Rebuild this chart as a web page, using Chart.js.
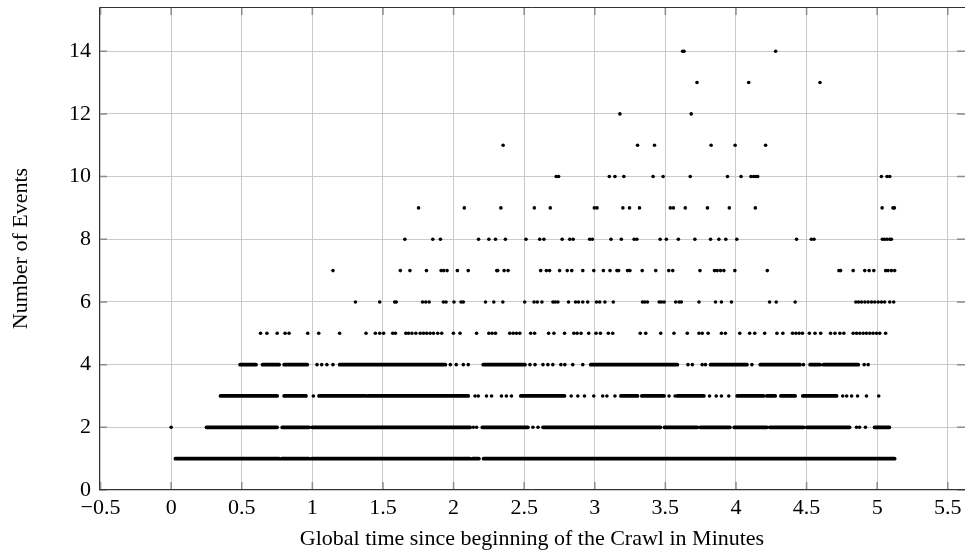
<!DOCTYPE html>
<html>
<head>
<meta charset="utf-8">
<script src="https://cdn.jsdelivr.net/npm/chart.js@4"></script>
<style>
  html, body { margin: 0; padding: 0; background: #fff; overflow: hidden; }
  #grafico { display: block; }
</style>
</head>
<body>
<canvas id="grafico" width="969" height="552"></canvas>
<script>
// Datos: minutos donde aparece cada numero de eventos
// Filas densas como tramos [desde, hasta], filas dispersas como puntos sueltos
const tramos1 = [[0.030, 0.765], [0.784, 0.976], [0.995, 2.116], [2.135, 2.180], [2.212, 5.124]]
const tramos2 = [[0.250, 0.751], [0.786, 0.976], [0.998, 2.118], [2.203, 2.527], [2.633, 3.465], [3.493, 3.726],
                 [3.747, 3.958], [3.987, 4.219], [4.240, 4.480], [4.501, 4.805], [4.981, 5.087]]
const tramos3 = [[0.349, 0.751], [0.800, 0.955], [1.047, 1.378], [1.392, 2.104], [2.476, 2.786], [3.185, 3.303],
                 [3.333, 3.491], [3.585, 3.773], [4.008, 4.196], [4.219, 4.278], [4.318, 4.419], [4.473, 4.713]]
const tramos4 = [[0.488, 0.601], [0.647, 0.765], [0.800, 0.964], [1.193, 1.942], [2.210, 2.506], [2.971, 3.585],
                 [3.820, 4.078], [4.172, 4.454], [4.525, 4.595], [4.619, 4.866]]

const puntos2 = [0.0, 2.140, 2.163, 2.562, 2.598, 4.854, 4.875, 4.917]
const puntos3 = [1.007, 2.152, 2.175, 2.233, 2.269, 2.339, 2.374, 2.410, 2.833, 2.880, 2.927, 2.993, 3.056, 3.086,
                 3.143, 3.526, 3.569, 3.813, 3.860, 3.897, 3.949, 4.756, 4.784, 4.819, 4.861, 4.924, 5.011]
const puntos4 = [1.033, 1.066, 1.103, 1.146, 1.977, 2.019, 2.069, 2.104, 2.541, 2.577, 2.633, 2.668, 2.703, 2.760,
                 2.788, 2.844, 2.915, 3.660, 3.691, 3.761, 3.784, 4.113, 4.478, 4.908, 4.936]
const puntos5 = [0.633, 0.678, 0.751, 0.807, 0.835, 0.967, 1.045, 1.193, 1.380, 1.446, 1.477, 1.505, 1.569, 1.588,
                 1.662, 1.681, 1.705, 1.733, 1.764, 1.787, 1.810, 1.834, 1.858, 1.888, 1.916, 1.999, 2.046, 2.163,
                 2.250, 2.273, 2.297, 2.398, 2.422, 2.445, 2.469, 2.546, 2.574, 2.673, 2.711, 2.786, 2.852, 2.875,
                 2.903, 2.957, 3.009, 3.040, 3.096, 3.127, 3.322, 3.361, 3.467, 3.561, 3.655, 3.738, 3.761, 3.803,
                 3.897, 3.925, 4.027, 4.097, 4.133, 4.203, 4.290, 4.332, 4.400, 4.424, 4.447, 4.471, 4.520, 4.560,
                 4.600, 4.670, 4.701, 4.736, 4.764, 4.830, 4.854, 4.877, 4.901, 4.924, 4.948, 4.971, 4.995, 5.018, 5.060]
const puntos6 = [1.305, 1.477, 1.583, 1.594, 1.780, 1.803, 1.827, 1.928, 1.947, 2.003, 2.053, 2.069, 2.226, 2.285,
                 2.349, 2.504, 2.570, 2.593, 2.626, 2.704, 2.720, 2.739, 2.814, 2.864, 2.885, 2.915, 2.950, 3.012,
                 3.035, 3.072, 3.131, 3.338, 3.354, 3.373, 3.456, 3.472, 3.491, 3.573, 3.597, 3.613, 3.738, 3.855,
                 3.897, 3.968, 4.238, 4.285, 4.419, 4.849, 4.868, 4.889, 4.913, 4.936, 4.960, 4.983, 5.007, 5.030,
                 5.053, 5.089, 5.117]
const puntos7 = [1.146, 1.623, 1.691, 1.808, 1.912, 1.930, 1.954, 2.027, 2.104, 2.306, 2.313, 2.358, 2.386, 2.617,
                 2.657, 2.680, 2.751, 2.805, 2.837, 2.915, 2.993, 3.061, 3.108, 3.157, 3.169, 3.232, 3.249, 3.336,
                 3.432, 3.524, 3.552, 3.745, 3.848, 3.867, 3.890, 3.914, 3.992, 4.222, 4.729, 4.741, 4.830, 4.912,
                 4.943, 4.976, 5.060, 5.077, 5.101, 5.124]
const puntos8 = [1.655, 1.853, 1.907, 2.177, 2.250, 2.297, 2.367, 2.513, 2.610, 2.640, 2.769, 2.823, 2.847, 2.964,
                 2.983, 3.115, 3.188, 3.279, 3.298, 3.463, 3.507, 3.592, 3.709, 3.820, 3.879, 3.928, 4.006, 4.429,
                 4.534, 4.553, 5.037, 5.053, 5.070, 5.089, 5.101]
const puntos9 = [1.752, 2.076, 2.335, 2.572, 2.685, 2.997, 3.016, 3.199, 3.246, 3.317, 3.535, 3.557, 3.641, 3.798,
                 3.953, 4.137, 5.035, 5.112, 5.122]
const puntos10 = [2.727, 2.744, 3.103, 3.143, 3.206, 3.413, 3.484, 3.676, 3.940, 4.036, 4.106, 4.125, 4.140, 4.154,
                  5.030, 5.070, 5.089]
const puntos11 = [2.351, 3.303, 3.423, 3.824, 3.994, 4.210]
const puntos12 = [3.178, 3.683]
const puntos13 = [3.724, 4.090, 4.595]
const puntos14 = [3.622, 3.632, 4.281]

const ticksX = [-0.5, 0, 0.5, 1, 1.5, 2, 2.5, 3, 3.5, 4, 4.5, 5, 5.5]
const ticksY = [0, 2, 4, 6, 8, 10, 12, 14]

const filasTramos = [[1, tramos1], [2, tramos2], [3, tramos3], [4, tramos4]]
const filasPuntos = [[2, puntos2], [3, puntos3], [4, puntos4], [5, puntos5], [6, puntos6], [7, puntos7],
                     [8, puntos8], [9, puntos9], [10, puntos10], [11, puntos11], [12, puntos12], [13, puntos13],
                     [14, puntos14]]

const fuente = { family: "'Liberation Serif', 'DejaVu Serif', serif", size: 22 }

// Armar datasets
const datasets = []
filasTramos.forEach(([nivel, tramos]) => {
    datasets.push({
        data: tramos.flatMap(([a, b]) => [{ x: a, y: nivel }, { x: b, y: nivel }, { x: b, y: null }]),
        showLine: true,
        spanGaps: false,
        borderColor: '#000',
        borderWidth: 3.7,
        borderCapStyle: 'round',
        pointRadius: 0
    })
})
filasPuntos.forEach(([nivel, xs]) => {
    datasets.push({
        data: xs.map(x => ({ x: x, y: nivel })),
        backgroundColor: '#000',
        borderColor: '#000',
        borderWidth: 0,
        pointRadius: 1.8
    })
})

// Marco (el borde derecho queda fuera de la imagen) y marcas internas de los ejes
const marcoEjes = {
    id: 'marcoEjes',
    beforeDatasetsDraw(chart) {
        const { ctx, chartArea: a, scales: { x, y } } = chart
        ctx.save()
        ctx.strokeStyle = '#8c8c8c'
        ctx.lineWidth = 1.5
        ctx.beginPath()
        ticksX.forEach(v => {
            const p = x.getPixelForValue(v)
            ctx.moveTo(p, a.top); ctx.lineTo(p, a.top + 8)
            ctx.moveTo(p, a.bottom); ctx.lineTo(p, a.bottom - 8)
        })
        ticksY.forEach(v => {
            const p = y.getPixelForValue(v)
            ctx.moveTo(a.left, p); ctx.lineTo(a.left + 8, p)
            ctx.moveTo(a.right, p); ctx.lineTo(a.right - 8, p)
        })
        ctx.stroke()
        ctx.restore()
    },
    afterDraw(chart) {
        const { ctx, chartArea: a } = chart
        ctx.save()
        ctx.strokeStyle = '#333'
        ctx.lineWidth = 1
        ctx.beginPath()
        ctx.moveTo(a.right, a.top + 0.5)
        ctx.lineTo(a.left + 0.5, a.top + 0.5)
        ctx.lineTo(a.left + 0.5, a.bottom - 0.5)
        ctx.lineTo(a.right, a.bottom - 0.5)
        ctx.stroke()
        ctx.restore()
    }
}

const contexto = document.getElementById('grafico').getContext('2d')
const grafico = new Chart(contexto, {
    type: 'scatter',
    data: { datasets: datasets },
    plugins: [marcoEjes],
    options: {
        responsive: false,
        animation: false,
        devicePixelRatio: 1,
        layout: { padding: { top: 7, right: 0, bottom: 0, left: 0 } },
        plugins: {
            legend: { display: false },
            tooltip: { enabled: false }
        },
        scales: {
            x: {
                type: 'linear',
                min: -0.511,
                max: 5.622,
                afterBuildTicks: s => { s.ticks = ticksX.map(v => ({ value: v })) },
                afterFit: s => {
                    s.height = 62
                    s.paddingLeft = 0
                    s.paddingRight = 0
                },
                grid: { color: '#cbcbcb', lineWidth: 1, drawTicks: false },
                border: { display: false },
                ticks: {
                    color: '#000',
                    font: fuente,
                    padding: 5,
                    maxRotation: 0,
                    autoSkip: false,
                    callback: v => String(v).replace('-', '\u2212')
                },
                title: {
                    display: true,
                    text: 'Global time since beginning of the Crawl in Minutes',
                    color: '#000',
                    font: fuente,
                    padding: { top: 0, bottom: 0 }
                }
            },
            y: {
                type: 'linear',
                min: 0,
                max: 15.41,
                afterBuildTicks: s => { s.ticks = ticksY.map(v => ({ value: v })) },
                afterFit: s => {
                    s.width = 99
                    s.paddingTop = 0
                    s.paddingBottom = 0
                },
                grid: { color: '#cbcbcb', lineWidth: 1, drawTicks: false },
                border: { display: false },
                ticks: {
                    color: '#000',
                    font: fuente,
                    padding: 8,
                    autoSkip: false
                },
                title: {
                    display: true,
                    text: 'Number of Events',
                    color: '#000',
                    font: fuente,
                    padding: { top: 8, bottom: 0 }
                }
            }
        }
    }
})
</script>
</body>
</html>
